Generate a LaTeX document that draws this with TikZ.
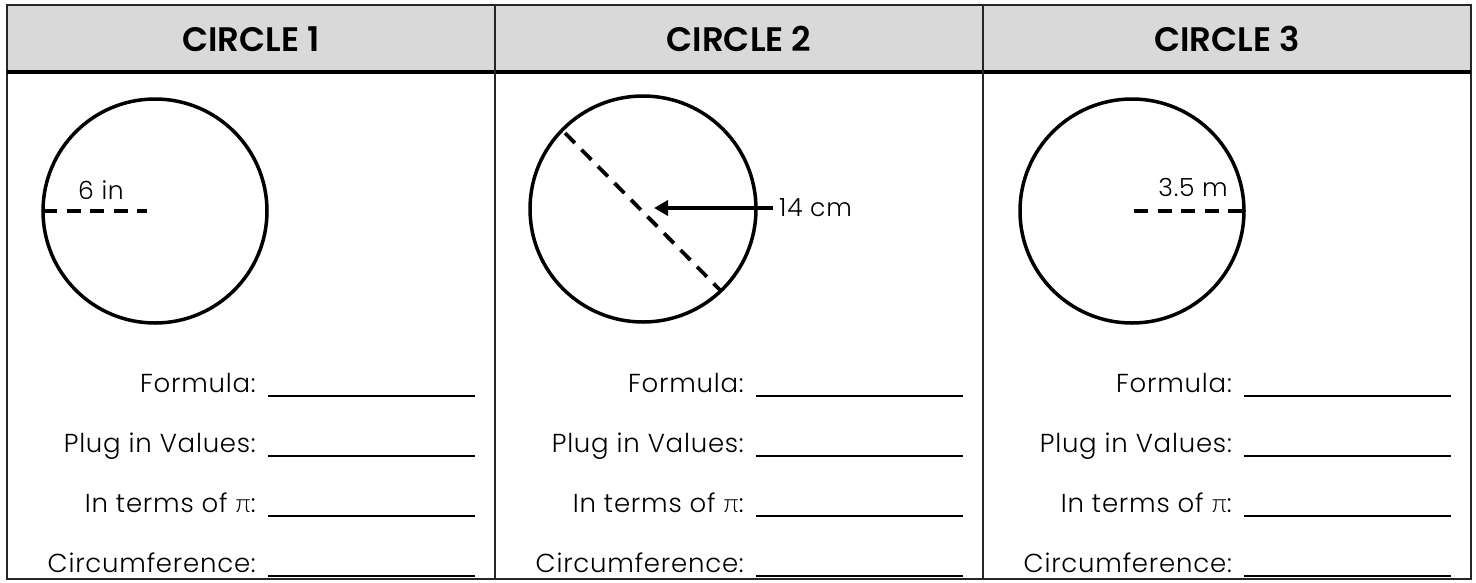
\documentclass[tikz,border=0pt]{standalone}
\usepackage{fontspec}
\setmainfont{Poppins Light}[LetterSpace=3]
\newfontfamily\headfont{Poppins SemiBold}
\newfontfamily\pifont{Lato Light}
\usetikzlibrary{arrows.meta}
\begin{document}
\begin{tikzpicture}[x=1pt,y=-1pt,
  frame/.style={line width=2.5pt,draw=black!85},
  ring/.style={line width=3.5pt,draw=black},
  radline/.style={line width=3.8pt,dash pattern=on 14pt off 9.5pt},
  headtxt/.style={font=\headfont\fontsize{34}{36}\selectfont,anchor=center,inner sep=0pt},
  lbl/.style={font=\fontsize{26}{30}\selectfont,anchor=base east,inner sep=0pt},
  meas/.style={font=\fontsize{25}{28}\selectfont,anchor=base west,inner sep=0pt},
  blank/.style={line width=1.8pt}]
\useasboundingbox (0,0) rectangle (1476,582);
% header band
\fill[black!15] (7,5) rectangle (1471,72);
\draw[frame] (7,5) rectangle (1471,579);
\draw[line width=3.5pt] (7,72) -- (1471,72);
\draw[frame] (495,5) -- (495,579);
\draw[frame] (983,5) -- (983,579);
\node[headtxt] (h1) at (251,39) {CIRCLE 1};
\node[headtxt] (h2) at (739,39) {CIRCLE 2};
\node[headtxt] (h3) at (1227,39) {CIRCLE 3};
% circle 1
\coordinate (c1) at (155,211);
\draw[ring] (c1) circle[radius=112];
\coordinate (r1a) at (43,211);
\coordinate (r1b) at (147,211);
\draw[radline] (r1a) -- (r1b);
\node[meas,anchor=base] (m1) at (101,199) {6 in};
% circle 2
\coordinate (c2) at (643,209);
\draw[ring] (c2) circle[radius=113];
\coordinate (d2a) at (565,133);
\coordinate (d2b) at (720,290);
\draw[radline] (d2a) -- (d2b);
\coordinate (a2s) at (773,208);
\coordinate (a2t) at (654,208);
\draw[line width=4pt,-{Triangle[length=14pt,width=15pt]}] (a2s) -- (a2t);
\node[meas] (m2) at (779,216) {14 cm};
% circle 3
\coordinate (c3) at (1132,211);
\draw[ring] (c3) circle[radius=112];
\coordinate (r3a) at (1134,211);
\coordinate (r3b) at (1244,211);
\draw[radline] (r3a) -- (r3b);
\node[meas,anchor=base] (m3) at (1193,196) {3.5 m};
% rows
\foreach \col/\x in {1/7,2/495,3/983}{
  \foreach \row/\y/\t in {1/392/{Formula:},2/452/{Plug in Values:},3/512/{In terms of {\pifont π}:},4/572/{Circumference:}}{
    \node[lbl] (t\col\row) at (\x+249,\y) {\t};
    \coordinate (u\col\row a) at (\x+261,\y+4);
    \coordinate (u\col\row b) at (\x+468,\y+4);
    \draw[blank] (u\col\row a) -- (u\col\row b);
  }
}
\end{tikzpicture}
\end{document}
